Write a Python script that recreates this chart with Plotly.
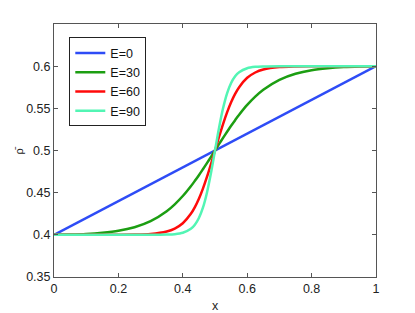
import plotly.graph_objects as go

x_vals = [0, 0.05, 0.1, 0.15, 0.2, 0.25, 0.3, 0.35, 0.375, 0.4, 0.425, 0.4375, 0.45,
          0.4625, 0.475, 0.4875, 0.5, 0.5125, 0.525, 0.5375, 0.55, 0.5625, 0.575,
          0.6, 0.625, 0.65, 0.7, 0.75, 0.8, 0.85, 0.9, 0.95, 1]

x_e0 = [0, 1]
rho_e0 = [0.4, 0.6]

rho_e30 = [0.4000, 0.4004, 0.4011, 0.4025, 0.4048, 0.4090, 0.4162, 0.4280, 0.4362,
           0.4460, 0.4576, 0.4640, 0.4707, 0.4778, 0.4850, 0.4925, 0.5000,
           0.5075, 0.5150, 0.5222, 0.5293, 0.5360, 0.5424, 0.5540, 0.5638, 0.5720,
           0.5838, 0.5910, 0.5952, 0.5975, 0.5989, 0.5996, 0.6000]

rho_e60 = [0.4000, 0.4000, 0.4000, 0.4000, 0.4001, 0.4003, 0.4011, 0.4040, 0.4075,
           0.4138, 0.4249, 0.4329, 0.4428, 0.4548, 0.4686, 0.4839, 0.5000,
           0.5161, 0.5314, 0.5452, 0.5572, 0.5671, 0.5751, 0.5862, 0.5925, 0.5960,
           0.5989, 0.5997, 0.5999, 0.6000, 0.6000, 0.6000, 0.6000]

rho_e90 = [0.4000, 0.4000, 0.4000, 0.4000, 0.4000, 0.4000, 0.4000, 0.4003, 0.4008,
           0.4024, 0.4071, 0.4120, 0.4200, 0.4322, 0.4500, 0.4732, 0.5000,
           0.5268, 0.5500, 0.5678, 0.5800, 0.5880, 0.5929, 0.5976, 0.5992, 0.5997,
           0.6000, 0.6000, 0.6000, 0.6000, 0.6000, 0.6000, 0.6000]

labels = ["E=0", "E=30", "E=60", "E=90"]
colors = ["#2E4CF6", "#1C9E12", "#FF0A0A", "#52F5B4"]

x_ticks = [0, 0.2, 0.4, 0.6, 0.8, 1]
x_ticktext = ["0", "0.2", "0.4", "0.6", "0.8", "1"]
y_ticks = [0.35, 0.4, 0.45, 0.5, 0.55, 0.6]
y_ticktext = ["0.35", "0.4", "0.45", "0.5", "0.55", "0.6"]

fig = go.Figure()
series = [(x_e0, rho_e0), (x_vals, rho_e30), (x_vals, rho_e60), (x_vals, rho_e90)]
for (xs, ys), name, c in zip(series, labels, colors):
    fig.add_trace(go.Scatter(x=xs, y=ys, mode="lines", name=name,
                             line=dict(color=c, width=2.5, shape="spline", smoothing=0.8)))

font_family = "Liberation Sans, Arial, sans-serif"
axis_common = dict(showgrid=False, zeroline=False, showline=True, linecolor="#555555",
                   linewidth=1, mirror="ticks", ticks="inside", ticklen=4,
                   tickcolor="#555555", tickfont=dict(size=12.5, color="#222222"),
                   automargin=False)

# the page adds an 8 px body margin, so the figure is 8 px smaller each way
W, H = 407, 305
ML, MR, MT, MB = 46, 39, 16, 36
plot_w = W - ML - MR

fig.update_layout(
    width=W, height=H,
    margin=dict(l=ML, r=MR, t=MT, b=MB),
    paper_bgcolor="white", plot_bgcolor="white",
    font=dict(family=font_family, color="#222222"),
    xaxis=dict(range=[0, 1], tickvals=x_ticks, ticktext=x_ticktext,
               title=dict(text="x", font=dict(size=12.5), standoff=6), **axis_common),
    yaxis=dict(range=[0.35, 0.65], tickvals=y_ticks, ticktext=y_ticktext, **axis_common),
    legend=dict(x=0.0475, y=0.947, xanchor="left", yanchor="top",
                bgcolor="white", bordercolor="#222222", borderwidth=1,
                font=dict(size=12.5, color="#111111"), tracegroupgap=0),
    showlegend=True,
    annotations=[dict(text="ρ̄", x=(10 - ML) / plot_w, y=0.5, xref="paper", yref="paper",
                      xanchor="center", showarrow=False, textangle=-90,
                      font=dict(size=11))],
)

fig.write_html("out.html")
